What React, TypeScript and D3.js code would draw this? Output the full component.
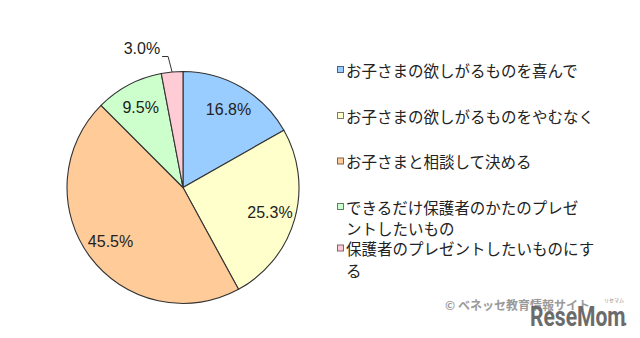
import React, { useEffect, useRef } from 'react';
import * as d3 from 'd3';

// data
const categories = [
  'お子さまの欲しがるものを喜んで',
  'お子さまの欲しがるものをやむなく',
  'お子さまと相談して決める',
  'できるだけ保護者のかたのプレゼントしたいもの',
  '保護者のプレゼントしたいものにする',
];
const legendLines = [
  ['お子さまの欲しがるものを喜んで'],
  ['お子さまの欲しがるものをやむなく'],
  ['お子さまと相談して決める'],
  ['できるだけ保護者のかたのプレゼ', 'ントしたいもの'],
  ['保護者のプレゼントしたいものにす', 'る'],
];
const values = [16.8, 25.3, 45.5, 9.5, 3.0];
const valueLabels = ['16.8%', '25.3%', '45.5%', '9.5%', '3.0%'];
const colors = ['#99ccff', '#ffffcc', '#ffcc99', '#ccffcc', '#ffccd5'];

const svgWidth = 640;
const svgHeight = 338;

const App: React.FC = () => {
  const svgRef = useRef<SVGSVGElement | null>(null);

  useEffect(() => {
    const svg = d3.select(svgRef.current);
    svg.selectAll('*').remove();

    const cx = 183;
    const cy = 187.5;
    const radius = 116;

    const pie = d3
      .pie<number>()
      .sort(null)
      .value((d) => d);
    const arcs = pie(values);

    const arc = d3.arc<d3.PieArcDatum<number>>().innerRadius(0).outerRadius(radius);
    const labelArc = d3
      .arc<d3.PieArcDatum<number>>()
      .innerRadius(radius * 0.78)
      .outerRadius(radius * 0.78);

    const g = svg.append('g').attr('transform', `translate(${cx},${cy})`);

    g.selectAll('path.slice')
      .data(arcs)
      .enter()
      .append('path')
      .attr('class', 'slice')
      .attr('d', arc)
      .attr('fill', (_, i) => colors[i])
      .attr('stroke', '#333')
      .attr('stroke-width', 1.1);

    // inner labels (all but the small one)
    g.selectAll('text.val')
      .data(arcs.filter((_, i) => i < 4))
      .enter()
      .append('text')
      .attr('class', 'val')
      .attr('transform', (d) => `translate(${labelArc.centroid(d)})`)
      .attr('text-anchor', 'middle')
      .attr('dominant-baseline', 'central')
      .attr('font-family', 'Liberation Sans, Arial, sans-serif')
      .attr('font-size', 16)
      .attr('fill', '#222')
      .text((_, i) => valueLabels[i]);

    // small slice: label outside with leader line
    const small = arcs[4];
    const mid = (small.startAngle + small.endAngle) / 2;
    const px = Math.sin(mid) * radius;
    const py = -Math.cos(mid) * radius;
    const elbowY = -radius - 15;
    const elbowX = px - 4;
    g.append('path')
      .attr('d', `M${px},${py}L${elbowX},${elbowY}L${elbowX - 6},${elbowY}`)
      .attr('fill', 'none')
      .attr('stroke', '#333')
      .attr('stroke-width', 1);
    g.append('text')
      .attr('x', elbowX - 8)
      .attr('y', elbowY - 3)
      .attr('text-anchor', 'end')
      .attr('font-family', 'Liberation Sans, Arial, sans-serif')
      .attr('font-size', 16)
      .attr('fill', '#222')
      .text(valueLabels[4]);

    // legend
    const legendRowY = [69.5, 115.5, 161, 206.5, 248];
    const lineH = 21.5;
    const legend = svg.append('g').attr('class', 'legend');
    categories.forEach((c, i) => {
      const y = legendRowY[i];
      legend
        .append('rect')
        .attr('x', 337.5)
        .attr('y', y - 3)
        .attr('width', 6)
        .attr('height', 6)
        .attr('fill', colors[i])
        .attr('stroke', d3.color(colors[i])!.darker(2).formatHex())
        .attr('stroke-width', 1);
      const t = legend
        .append('text')
        .attr('font-family', 'Noto Sans CJK JP, sans-serif')
        .attr('font-size', 15.5)
        .attr('fill', '#222')
        .attr('aria-label', c);
      legendLines[i].forEach((line, j) => {
        t.append('tspan')
          .attr('x', 346)
          .attr('y', y + j * lineH)
          .attr('dominant-baseline', 'central')
          .text(line);
      });
    });

    // watermark
    svg
      .append('text')
      .attr('x', 445)
      .attr('y', 310)
      .attr('font-family', 'Noto Sans CJK JP, sans-serif')
      .attr('font-size', 12)
      .attr('font-weight', 'bold')
      .attr('fill', '#9a9a9a')
      .text('© ベネッセ教育情報サイト');
    svg
      .append('text')
      .attr('transform', 'translate(530,326) scale(0.78,1)')
      .attr('font-family', 'Roboto, sans-serif')
      .attr('font-size', 27)
      .attr('font-weight', 'bold')
      .attr('fill', '#6b6b6b')
      .text('ReseMom');
    svg
      .append('text')
      .attr('x', 604)
      .attr('y', 302)
      .attr('font-family', 'Noto Sans CJK JP, sans-serif')
      .attr('font-size', 5)
      .attr('fill', '#888')
      .text('リセマム');
    svg
      .append('circle')
      .attr('cx', 625)
      .attr('cy', 324)
      .attr('r', 1.5)
      .attr('fill', '#6b6b6b');
  }, []);

  return (
    <svg
      ref={svgRef}
      width={svgWidth}
      height={svgHeight}
      style={{ position: 'absolute', left: 0, top: 0, background: '#fff' }}
    />
  );
};

export default App;
